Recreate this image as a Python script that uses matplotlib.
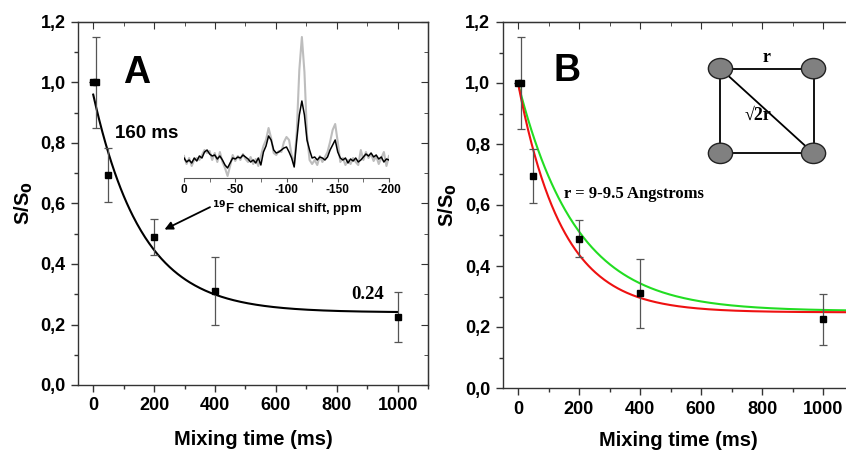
import numpy as np
import matplotlib
matplotlib.use("Agg")
import matplotlib.pyplot as plt
from matplotlib.ticker import MultipleLocator, FuncFormatter
from matplotlib.patches import Ellipse

# ---------------- data ----------------
mix_time = [0, 10, 50, 200, 400, 1000]
ratio = [1.0, 1.0, 0.695, 0.49, 0.31, 0.225]
ratio_err = [0.0, 0.15, 0.09, 0.06, 0.112, 0.083]

# fit A: plateau + amp*exp(-t/tau)
fitA_tau, fitA_plateau, fitA_amp = 160.0, 0.24, 0.72
# fits B
fitG_tau, fitG_plateau, fitG_amp = 190.0, 0.252, 0.748
fitR_tau, fitR_plateau, fitR_amp = 145.0, 0.248, 0.752

# inset 19F spectrum (ppm, 0 .. -200 in 2.5 ppm steps)
ppm = [-2.5 * i for i in range(81)]
spec_black = [12, 8, 10, 7, 12, 9, 14, 12, 18, 20, 16, 14, 15, 11, 14, 10, 5, 2, 7, 12,
              11, 13, 12, 15, 13, 11, 8, 10, 7, 12, 5, 18, 24, 34, 30, 20, 17, 18, 20, 22,
              23, 18, 12, 3, 30, 55, 69, 55, 30, 20, 12, 13, 10, 13, 12, 10, 13, 20, 25, 30,
              18, 12, 10, 12, 7, 11, 9, 12, 8, 10, 13, 16, 14, 17, 13, 15, 11, 13, 8, 11, 10]
spec_gray = [14, 6, 12, 4, 10, 12, 10, 15, 20, 17, 19, 10, 17, 8, 18, 8, 2, -6, 4, 15,
             9, 14, 10, 16, 11, 8, 13, 6, 11, 4, 14, 24, 30, 42, 32, 17, 15, 19, 18, 28,
             33, 30, 15, 6, 38, 100, 133, 98, 35, 10, 6, 10, 5, 14, 8, 13, 18, 28, 40, 46,
             28, 8, 12, 5, 10, 6, 12, 8, 5, 20, 10, 18, 12, 16, 9, 14, 6, 12, 18, 4, 14]

# square diagram nodes (diagram units)
node_x = [0, 1, 0, 1]
node_y = [1, 1, 0, 0]

# ---------------- style ----------------
plt.rcParams['font.family'] = ['Liberation Sans', 'DejaVu Sans']
W, H = 846, 451
fig = plt.figure(figsize=(W / 100, H / 100), dpi=100)


def px_ax(l, r, t, b):
    return [l / W, (H - b) / H, (r - l) / W, (b - t) / H]


comma = FuncFormatter(lambda v, p: f"{v:.1f}".replace('.', ','))


def style_axes(ax, xpad):
    ax.set_xlim(-50, 1100)
    ax.set_ylim(0, 1.2)
    ax.xaxis.set_major_locator(MultipleLocator(200))
    ax.xaxis.set_minor_locator(MultipleLocator(100))
    ax.yaxis.set_major_locator(MultipleLocator(0.2))
    ax.yaxis.set_minor_locator(MultipleLocator(0.1))
    ax.yaxis.set_major_formatter(comma)
    ax.tick_params(which='major', direction='out', length=5, width=1,
                   labelsize=13, pad=4, color='#333333')
    ax.tick_params(which='minor', direction='out', length=3, width=1, color='#333333')
    for lab in ax.get_xticklabels() + ax.get_yticklabels():
        lab.set_fontweight('bold')
    for s in ax.spines.values():
        s.set_linewidth(1.0)
        s.set_color('#333333')
    # top / right ticks pointing inward
    sx = ax.secondary_xaxis('top')
    sx.xaxis.set_major_locator(MultipleLocator(200))
    sx.xaxis.set_minor_locator(MultipleLocator(100))
    sx.tick_params(which='major', direction='in', length=5, labeltop=False, color='#333333')
    sx.tick_params(which='minor', direction='in', length=3, color='#333333')
    sy = ax.secondary_yaxis('right')
    sy.yaxis.set_major_locator(MultipleLocator(0.2))
    sy.yaxis.set_minor_locator(MultipleLocator(0.1))
    sy.tick_params(which='major', direction='in', length=5, labelright=False, color='#333333')
    sy.tick_params(which='minor', direction='in', length=3, color='#333333')
    ax.set_xlabel('Mixing time (ms)', fontsize=14.5, fontweight='bold', labelpad=xpad)
    ax.set_ylabel(r'S/S$_\mathbf{0}$', fontsize=14.5, fontweight='bold', labelpad=4)


def draw_points(ax):
    ax.errorbar(mix_time, ratio, yerr=ratio_err, fmt='s', color='black',
                markersize=5, ecolor='#555555', elinewidth=0.9, capsize=3,
                capthick=0.9, zorder=5)


# ---------------- panel A ----------------
axA = fig.add_axes(px_ax(78, 428, 22, 385))
style_axes(axA, 11)
tA = np.linspace(0, 1000, 300)
axA.plot(tA, fitA_plateau + fitA_amp * np.exp(-tA / fitA_tau), color='black', lw=1.5)
draw_points(axA)
axA.text(143, 1.03, 'A', fontsize=27, fontweight='bold', ha='center', va='center')
axA.text(70, 0.83, '160 ms', fontsize=13.5, fontweight='bold', ha='left', va='center')
axA.text(957, 0.298, '0.24', fontsize=13.5, fontweight='bold', family='Liberation Serif',
         ha='right', va='center')
axA.annotate('', xy=(226, 0.51), xytext=(392, 0.592),
             arrowprops=dict(arrowstyle='-|>', color='black', lw=1.3,
                             mutation_scale=12))

# inset spectrum
axI = fig.add_axes(px_ax(184, 389, 30, 178))
axI.plot(ppm, spec_gray, color='#bdbdbd', lw=1.5)
axI.plot(ppm, spec_black, color='black', lw=1.1)
axI.set_xlim(0, -200)
axI.set_ylim(-8, 140)
axI.patch.set_alpha(0)
for s in ['top', 'left', 'right']:
    axI.spines[s].set_visible(False)
axI.spines['bottom'].set_color('#555555')
axI.set_yticks([])
axI.xaxis.set_major_locator(MultipleLocator(50))
axI.xaxis.set_minor_locator(MultipleLocator(25))
axI.tick_params(which='both', direction='out', length=3, labelsize=8.5, pad=1,
                color='#555555')
axI.xaxis.set_major_formatter(FuncFormatter(lambda v, p: f"{v:.0f}"))
for lab in axI.get_xticklabels():
    lab.set_fontweight('bold')
axI.set_xlabel(r'$^{\mathbf{19}}$F chemical shift, ppm', fontsize=9.5,
               fontweight='bold', labelpad=3)

# ---------------- panel B ----------------
axB = fig.add_axes(px_ax(502.75, 853.5, 22, 388))
style_axes(axB, 10)
tB = np.linspace(0, 1100, 300)
axB.plot(tB, fitG_plateau + fitG_amp * np.exp(-tB / fitG_tau), color='#22dd22', lw=1.5)
axB.plot(tB, fitR_plateau + fitR_amp * np.exp(-tB / fitR_tau), color='#ee1111', lw=1.5)
draw_points(axB)
axB.text(160, 1.04, 'B', fontsize=27, fontweight='bold', ha='center', va='center')
axB.text(150, 0.637, 'r = 9-9.5 Angstroms', fontsize=12, fontweight='bold',
         family='Liberation Serif', ha='left', va='center')

# square diagram
axD = fig.add_axes(px_ax(700, 834, 50, 172))
axD.set_xlim(-0.22, 1.22)
axD.set_ylim(-0.22, 1.22)
axD.axis('off')
edges = [(0, 1), (0, 2), (2, 3), (1, 3), (0, 3)]
for i, j in edges:
    axD.plot([node_x[i], node_x[j]], [node_y[i], node_y[j]], color='black', lw=1.3,
             zorder=1)
for x, y in zip(node_x, node_y):
    axD.add_patch(Ellipse((x, y), 0.26, 0.24, facecolor='#808080', edgecolor='#222222',
                          lw=1.0, zorder=2))
axD.text(0.5, 1.03, 'r', fontsize=13, fontweight='bold', family=['Liberation Serif', 'DejaVu Serif'],
         ha='center', va='bottom')
axD.text(0.40, 0.45, '\u221a2r', fontsize=13, fontweight='bold',
         family=['Liberation Serif', 'DejaVu Serif'], ha='center', va='center')

fig.savefig('out.png', dpi=100)
